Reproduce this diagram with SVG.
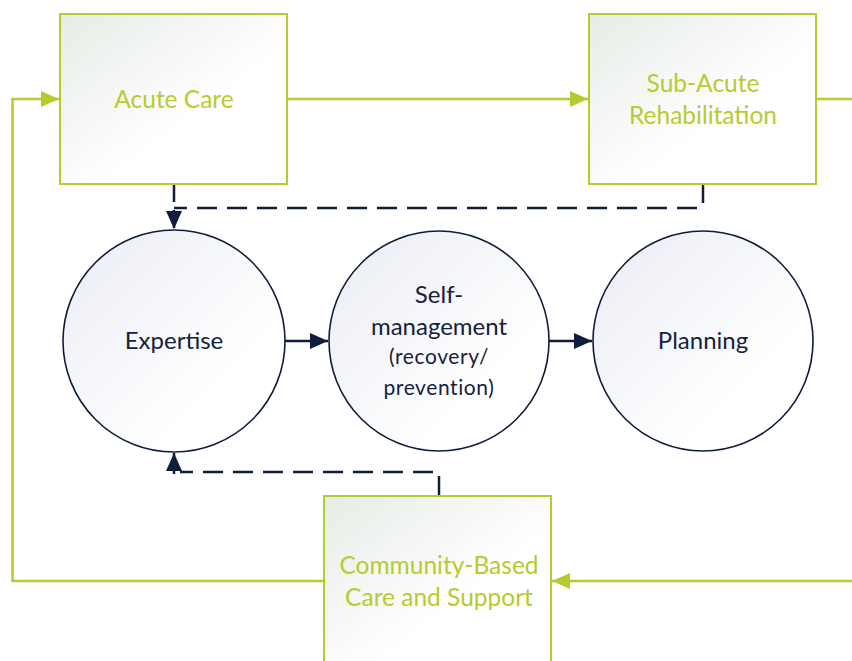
<svg xmlns="http://www.w3.org/2000/svg" width="852" height="661" viewBox="0 0 852 661">
<style>
.box{stroke:#b5cc2e;stroke-width:2;fill:url(#gbox)}
.circ{stroke:#0f1d3b;stroke-width:1.6;fill:url(#gcirc)}
.gl{fill:none;stroke:#b5cc2e;stroke-width:2.5}
.nl{fill:none;stroke:#0f1d3b;stroke-width:2.5}
.dash{stroke-dasharray:20 10}
.gt{font-family:Lato,"Open Sans",sans-serif;font-size:24.5px;fill:#b5cc2e;text-anchor:middle}
.nt{font-family:Lato,"Open Sans",sans-serif;font-size:24px;fill:#16213d;text-anchor:middle}
.st{font-size:21px;letter-spacing:0.6px}
</style>
<defs>
<linearGradient id="gbox" x1="0" y1="0" x2="1" y2="1">
<stop offset="0" stop-color="#e6ece6"/><stop offset="0.6" stop-color="#ffffff"/>
</linearGradient>
<linearGradient id="gcirc" x1="0" y1="0" x2="1" y2="1">
<stop offset="0" stop-color="#e9ecf3"/><stop offset="0.7" stop-color="#ffffff"/>
</linearGradient>
<marker id="ag" markerWidth="18" markerHeight="16" refX="18" refY="8" orient="auto" markerUnits="userSpaceOnUse">
<path d="M0,0 L18,8 L0,16 Z" fill="#b5cc2e"/>
</marker>
<marker id="an" markerWidth="18" markerHeight="16" refX="18" refY="8" orient="auto" markerUnits="userSpaceOnUse">
<path d="M0,0 L18,8 L0,16 Z" fill="#0f1d3b"/>
</marker>
</defs>
<g id="connectors">
<path class="gl" d="M324,581 H12.5 V99 H59" marker-end="url(#ag)"/>
<path class="gl" d="M287,99 H588" marker-end="url(#ag)"/>
<path class="gl" d="M816,99 H852"/>
<path class="gl" d="M852,581 H552" marker-end="url(#ag)"/>
<path class="nl" d="M285,341 H328" marker-end="url(#an)"/>
<path class="nl" d="M549,341 H592" marker-end="url(#an)"/>
<path class="nl" d="M703,184 V203"/>
<path class="nl dash" d="M697,208 H174"/>
<path class="nl" d="M174,184 V229" marker-end="url(#an)" stroke-dasharray="18 8"/>
<path class="nl" d="M439,496 V476"/>
<path class="nl dash" d="M433,472 H180"/>
<path class="nl" d="M174,474 V453" marker-end="url(#an)"/>
</g>
<g id="acute-care">
<rect class="box" x="60" y="14" width="227" height="170"/>
<text class="gt" x="174" y="108">Acute Care</text>
</g>
<g id="sub-acute">
<rect class="box" x="589" y="14" width="227" height="170"/>
<text class="gt" x="703" y="92">Sub-Acute</text>
<text class="gt" x="703" y="124">Rehabilitation</text>
</g>
<g id="community">
<rect class="box" x="324" y="496" width="227" height="175"/>
<text class="gt" x="439" y="574">Community-Based</text>
<text class="gt" x="439" y="606">Care and Support</text>
</g>
<g id="expertise">
<circle class="circ" cx="174" cy="341" r="111"/>
<text class="nt" x="174" y="349">Expertise</text>
</g>
<g id="self-management">
<circle class="circ" cx="439" cy="341" r="110"/>
<text class="nt" x="439" y="303">Self-</text>
<text class="nt" x="439" y="335">management</text>
<text class="nt st" x="439" y="364">(recovery/</text>
<text class="nt st" x="439" y="395">prevention)</text>
</g>
<g id="planning">
<circle class="circ" cx="703" cy="341" r="110"/>
<text class="nt" x="703" y="349">Planning</text>
</g>
</svg>
